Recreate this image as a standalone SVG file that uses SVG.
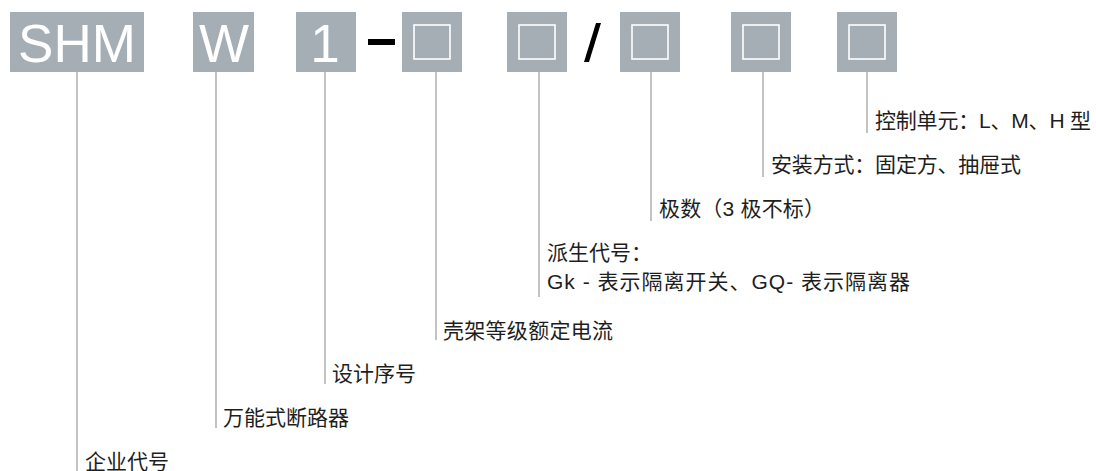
<svg xmlns="http://www.w3.org/2000/svg" width="1096" height="471" viewBox="0 0 1096 471">
<style>
.box{fill:#a5aeb5}
.inner{fill:none;stroke:#ffffff;stroke-width:1.6}
.code{font-family:"Liberation Sans",Arial,sans-serif;font-size:53px;fill:#ffffff;text-anchor:middle}
.lbl{font-family:"Liberation Sans","Noto Sans CJK SC",sans-serif;font-size:21px;fill:#1e1e1e}
.conn line{stroke:#9a9a9a;stroke-width:1.2}
</style>
<defs>
<g id="slot"><rect class="box" x="0" y="0" width="60" height="60"/><rect class="inner" x="12" y="13" width="36" height="34"/></g>
</defs>
<rect width="1096" height="471" fill="#ffffff"/>
<g id="connectors" class="conn">
<line x1="77" y1="72" x2="77" y2="471"/>
<line x1="216" y1="72" x2="216" y2="428"/>
<line x1="325" y1="72" x2="325" y2="384"/>
<line x1="436" y1="72" x2="436" y2="340"/>
<line x1="539" y1="72" x2="539" y2="297"/>
<line x1="651" y1="72" x2="651" y2="221"/>
<line x1="763" y1="72" x2="763" y2="177"/>
<line x1="867" y1="72" x2="867" y2="133"/>
</g>
<g id="node-shm"><rect class="box" x="10" y="12" width="134" height="60"/><text class="code" x="77" y="62">SHM</text></g>
<g id="node-w"><rect class="box" x="193" y="12" width="61" height="60"/><text class="code" x="224" y="62">W</text></g>
<g id="node-1"><rect class="box" x="296" y="12" width="60" height="60"/><text class="code" x="325" y="62">1</text></g>
<g id="dash"><rect x="368" y="39" width="27" height="6" fill="#000000"/></g>
<g id="node-frame"><use href="#slot" x="402" y="12"/></g>
<g id="node-derive"><use href="#slot" x="507" y="12"/></g>
<g id="slash"><polygon points="596,23 601,23 589,62 584,62" fill="#000000"/></g>
<g id="node-poles"><use href="#slot" x="620" y="12"/></g>
<g id="node-install"><use href="#slot" x="731" y="12"/></g>
<g id="node-control"><use href="#slot" x="837" y="12"/></g>
<g id="labels">
<text class="lbl" x="875" y="128" textLength="216" lengthAdjust="spacing">控制单元：L、M、H 型</text>
<text class="lbl" x="771" y="172" textLength="250" lengthAdjust="spacing">安装方式：固定方、抽屉式</text>
<text class="lbl" x="659" y="216" textLength="166" lengthAdjust="spacing">极数（3 极不标）</text>
<text class="lbl" x="547" y="260">派生代号：</text>
<text class="lbl" x="547" y="289" textLength="363" lengthAdjust="spacing">Gk - 表示隔离开关、GQ- 表示隔离器</text>
<text class="lbl" x="443" y="338" textLength="170" lengthAdjust="spacing">壳架等级额定电流</text>
<text class="lbl" x="332" y="381" textLength="84" lengthAdjust="spacing">设计序号</text>
<text class="lbl" x="223" y="425" textLength="126" lengthAdjust="spacing">万能式断路器</text>
<text class="lbl" x="85" y="469" textLength="84" lengthAdjust="spacing">企业代号</text>
</g>
</svg>
